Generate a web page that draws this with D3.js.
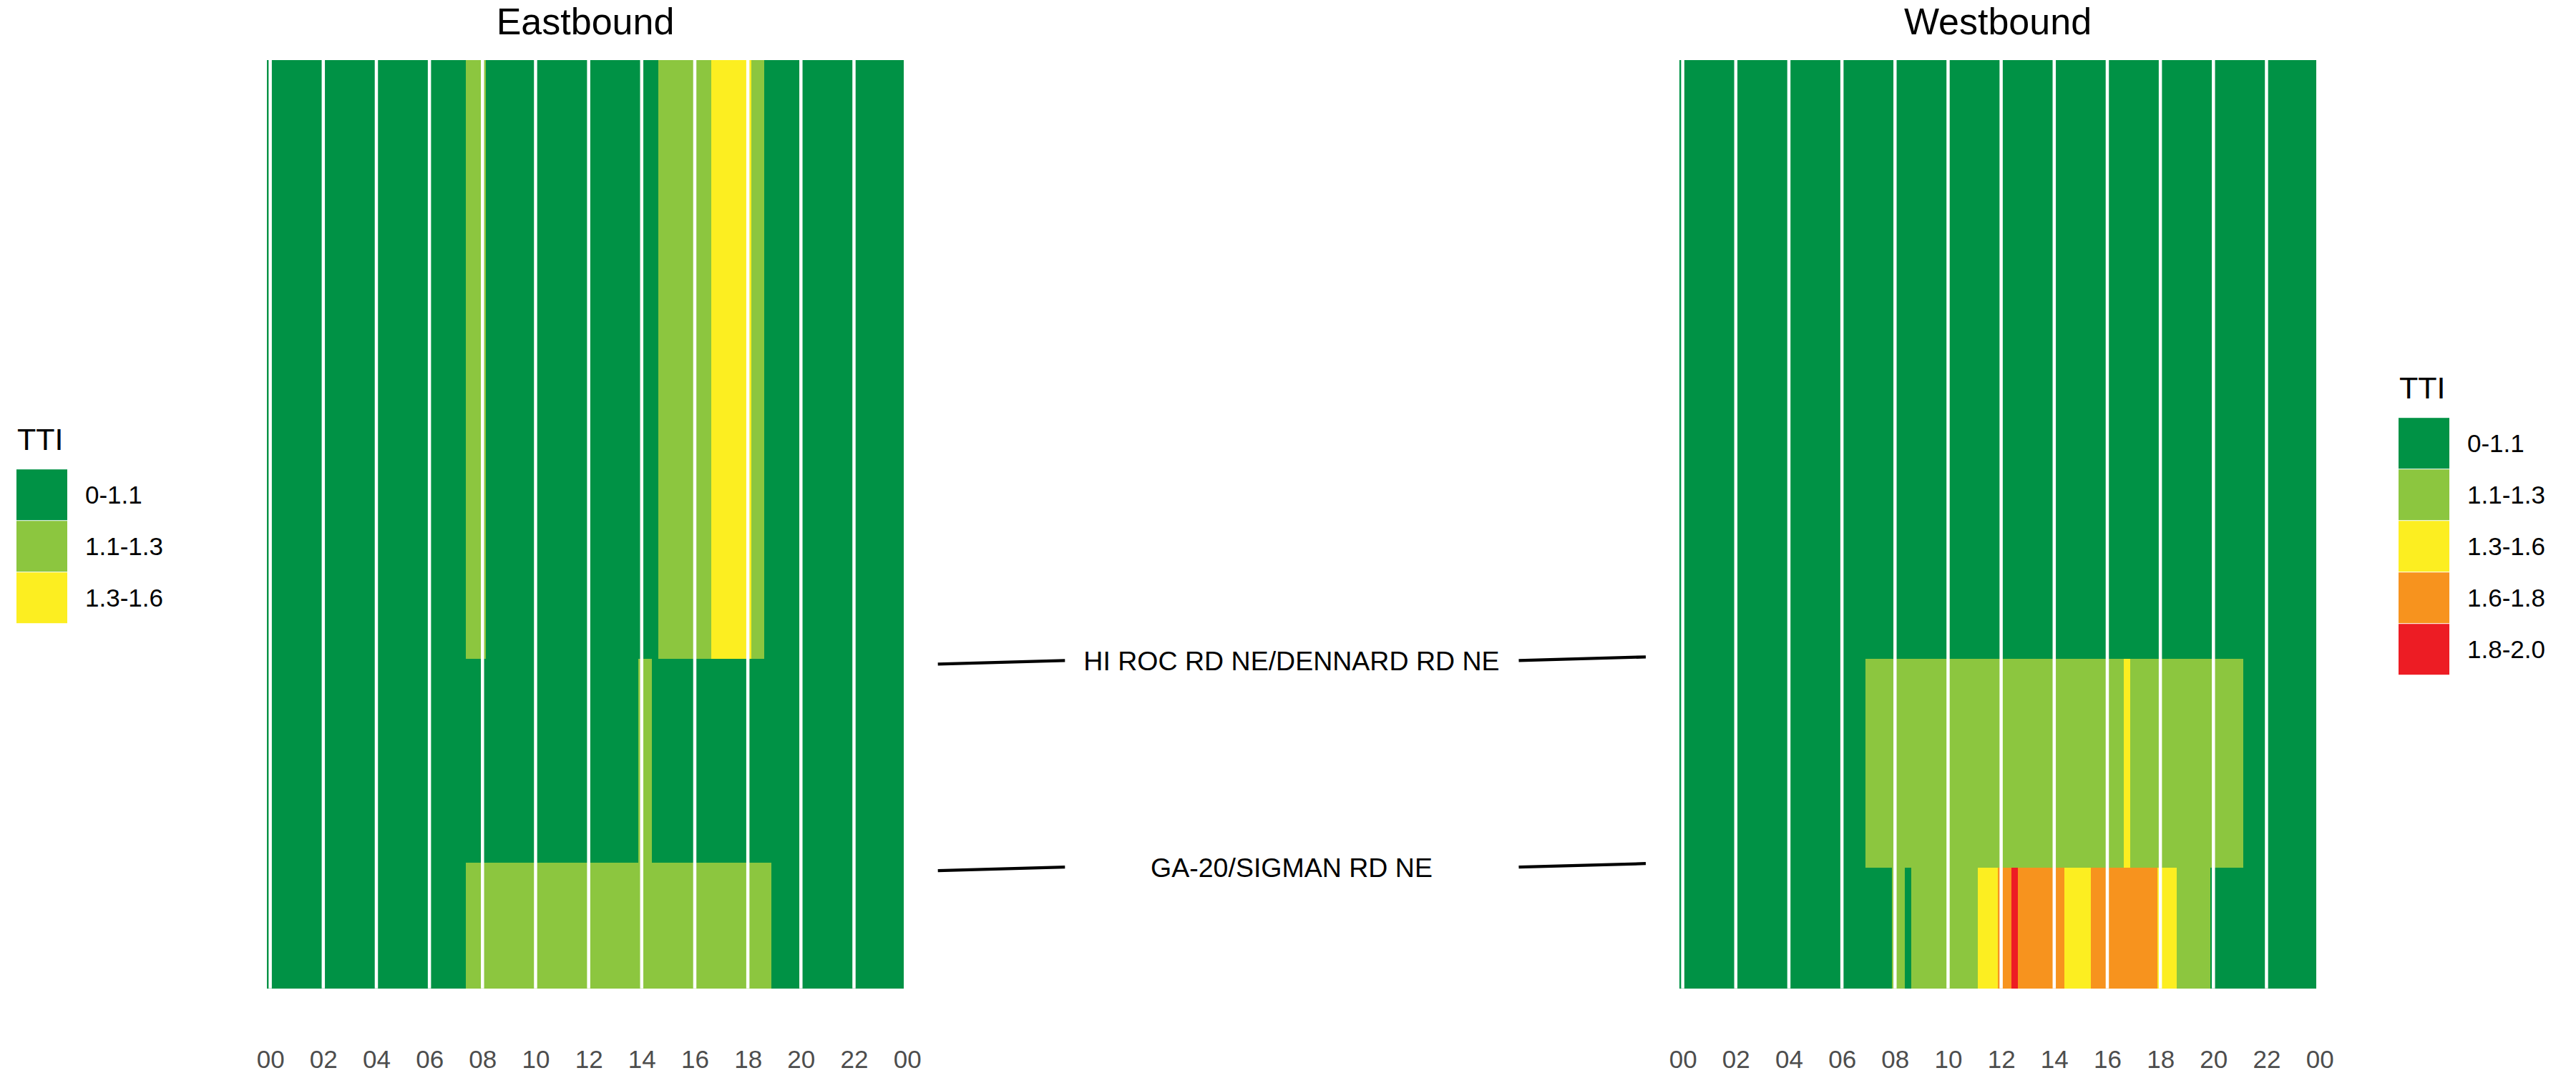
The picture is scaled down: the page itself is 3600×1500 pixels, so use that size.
<!DOCTYPE html>
<html><head><meta charset="utf-8">
<script src="https://cdn.jsdelivr.net/npm/d3@7"></script>
<style>
html,body{margin:0;padding:0;background:#fff;}
svg{display:block;font-family:"Liberation Sans",Arial,Helvetica,sans-serif;}
</style></head><body>
<svg id="chart" width="3600" height="1500"></svg>
<script>
// ---------------- data ----------------
const ttiClasses = ["0-1.1", "1.1-1.3", "1.3-1.6", "1.6-1.8", "1.8-2.0"];
const ttiColors  = ["#009245", "#8CC63F", "#FCEE21", "#F7931E", "#ED1C24"];
const directions = ["Eastbound", "Westbound"];
const boundaryLabels = ["HI ROC RD NE/DENNARD RD NE", "GA-20/SIGMAN RD NE"];
// segment lengths (miles), top to bottom
const eastSegmentMiles = [3.225, 1.100, 0.675];
const westSegmentMiles = [3.225, 1.125, 0.650];
const hourTicks = [0, 2, 4, 6, 8, 10, 12, 14, 16, 18, 20, 22, 24];
const hourTickLabels = ["00", "02", "04", "06", "08", "10", "12", "14", "16", "18", "20", "22", "00"];
const binHours = 0.25; // 15-minute bins, centred on the time stamp
// TTI class index per 15-min bin: one group of 4 bins per hour, 00..23
const eastRows = [
  "0000 0000 0000 0000 0000 0000 0000 0011 1000 0000 0000 0000 0000 0000 0001 1111 1112 2222 2110 0000 0000 0000 0000 0000",
  "0000 0000 0000 0000 0000 0000 0000 0000 0000 0000 0000 0000 0000 0000 1100 0000 0000 0000 0000 0000 0000 0000 0000 0000",
  "0000 0000 0000 0000 0000 0000 0000 0011 1111 1111 1111 1111 1111 1111 1111 1111 1111 1111 1111 0000 0000 0000 0000 0000"
];
const westRows = [
  "0000 0000 0000 0000 0000 0000 0000 0000 0000 0000 0000 0000 0000 0000 0000 0000 0000 0000 0000 0000 0000 0000 0000 0000",
  "0000 0000 0000 0000 0000 0000 0000 1111 1111 1111 1111 1111 1111 1111 1111 1111 1112 1111 1111 1111 1111 1000 0000 0000",
  "0000 0000 0000 0000 0000 0000 0000 0000 1101 1111 1111 1222 3343 3333 3322 2233 3333 3333 2221 1111 0000 0000 0000 0000"
];
const eastLegendClasses = 3;
const westLegendClasses = 5;

// ---------------- layout ----------------
const FONT = '"Liberation Sans", Arial, Helvetica, sans-serif';
const panelTop = 83.5, panelBottom = 1381.7;
const panels = [
  {name: directions[0], x0: 373,  x1: 1263, seg: eastSegmentMiles, rows: eastRows},
  {name: directions[1], x0: 2347, x1: 3237, seg: westSegmentMiles, rows: westRows}
];

const svg = d3.select("#chart");
svg.append("rect").attr("width", 3600).attr("height", 1500).attr("fill", "#fff");

function parseRow(s) { return s.replace(/\s+/g, "").split("").map(Number); }

panels.forEach(p => {
  const x = d3.scaleLinear().domain([-binHours / 2, 24 - binHours / 2]).range([p.x0, p.x1]);
  const total = d3.sum(p.seg);
  const y = d3.scaleLinear().domain([0, total]).range([panelTop, panelBottom]);
  const cum = [0];
  p.seg.forEach(v => cum.push(cum[cum.length - 1] + v));
  p.xScale = x; p.yScale = y; p.cum = cum;

  const cells = [];
  p.rows.forEach((r, ri) => {
    parseRow(r).forEach((c, bi) => {
      cells.push({t: bi * binHours, c: c, a: cum[ri], b: cum[ri + 1]});
    });
  });

  const g = svg.append("g");
  g.selectAll("rect.cell").data(cells).join("rect")
    .attr("class", "cell")
    .attr("x", d => x(d.t - binHours / 2))
    .attr("width", d => x(d.t + binHours / 2) - x(d.t - binHours / 2))
    .attr("y", d => y(d.a))
    .attr("height", d => y(d.b) - y(d.a))
    .attr("fill", d => ttiColors[d.c])
    .attr("shape-rendering", "crispEdges");

  // grid lines on top
  g.selectAll("line.grid").data(hourTicks.filter(h => h <= 24 - binHours / 2)).join("line")
    .attr("class", "grid")
    .attr("x1", d => x(d)).attr("x2", d => x(d))
    .attr("y1", panelTop).attr("y2", panelBottom)
    .attr("stroke", "#fff").attr("stroke-width", 4.5);

  // x axis labels
  const axis = d3.axisBottom(x).tickValues(hourTicks)
    .tickFormat((d, i) => hourTickLabels[i]).tickSize(0);
  const ag = svg.append("g").attr("transform", "translate(0,1492.5)").call(axis);
  ag.select(".domain").remove();
  ag.selectAll("text").attr("y", 0).attr("dy", 0)
    .attr("font-size", 35).attr("font-family", FONT).attr("fill", "#4D4D4D");

  // panel title
  svg.append("text").attr("x", (p.x0 + p.x1) / 2).attr("y", 48)
    .attr("text-anchor", "middle").attr("font-size", 52).attr("font-family", FONT)
    .attr("fill", "#000").text(p.name);
});

// centre boundary labels with leader lines
const E = panels[0], Wp = panels[1];
const eastLineStart = E.x1 + 47.7, eastLineEnd = E.x1 + 225.3;
const westLineStart = Wp.x0 - 224.5, westLineEnd = Wp.x0 - 47;
const labelX = (E.x1 + Wp.x0) / 2;
boundaryLabels.forEach((lab, i) => {
  const yE = E.yScale(E.cum[i + 1]);
  const yW = Wp.yScale(Wp.cum[i + 1]);
  const c = (yE + yW) / 2 + 2.5;
  svg.append("line").attr("x1", eastLineStart).attr("y1", c + 5)
    .attr("x2", eastLineEnd).attr("y2", c)
    .attr("stroke", "#000").attr("stroke-width", 4.3);
  svg.append("line").attr("x1", westLineStart).attr("y1", c)
    .attr("x2", westLineEnd).attr("y2", c - 5)
    .attr("stroke", "#000").attr("stroke-width", 4.3);
  svg.append("text").attr("x", labelX).attr("y", c + 13.4)
    .attr("text-anchor", "middle").attr("font-size", 37.5).attr("font-family", FONT)
    .attr("fill", "#000").text(lab);
});

// legends
function legend(x, n) {
  const centre = (panelTop + panelBottom) / 2 + 2.4;
  const step = 72, key = 71;
  const capTop = centre - (58.4 + n * step) / 2;
  const g = svg.append("g");
  g.append("text").attr("x", x + 1).attr("y", capTop + 30.8)
    .attr("font-size", 43).attr("font-family", FONT).attr("fill", "#000").text("TTI");
  const keysTop = capTop + 58.4;
  const items = ttiClasses.slice(0, n).map((c, i) => ({label: c, color: ttiColors[i], i}));
  g.selectAll("rect").data(items).join("rect")
    .attr("x", x).attr("y", d => keysTop + d.i * step)
    .attr("width", key).attr("height", key).attr("fill", d => d.color);
  g.selectAll("text.lab").data(items).join("text").attr("class", "lab")
    .attr("x", x + key + 25).attr("y", d => keysTop + d.i * step + key / 2 + 12.5)
    .attr("font-size", 35).attr("font-family", FONT).attr("fill", "#000")
    .text(d => d.label);
}
legend(23, eastLegendClasses);
legend(3352, westLegendClasses);
</script>
</body></html>
